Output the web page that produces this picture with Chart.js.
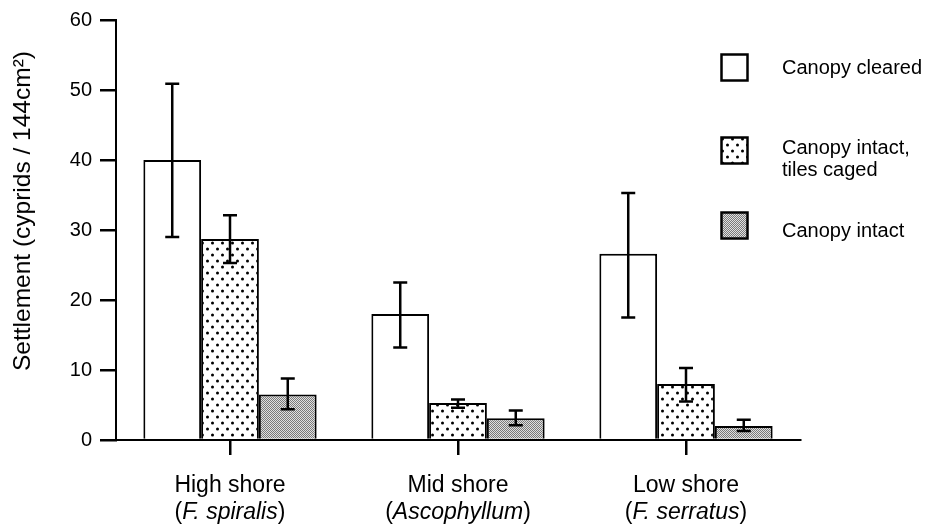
<!DOCTYPE html>
<html>
<head>
<meta charset="utf-8">
<script src="https://cdn.jsdelivr.net/npm/chart.js@4/dist/chart.umd.min.js"></script>
<style>
  html, body { margin: 0; padding: 0; background: #fff; }
  #wrap { position: relative; width: 928px; height: 528px; font-family: 'Liberation Sans', Arial, Helvetica, sans-serif; color: #000; }
  #chart { position: absolute; left: 0; top: 0; }
  .cat { position: absolute; top: 471px; width: 220px; margin-left: -110px; text-align: center; font-size: 23px; line-height: 27px; }
  #ytitle { position: absolute; left: 22px; top: 211px; white-space: nowrap; font-size: 24.5px; line-height: 28px; transform: translate(-50%, -50%) rotate(-90deg); }
  .leg { position: absolute; left: 720px; }
  .leg canvas { position: absolute; left: 0; top: 0; }
  .leg span { position: absolute; left: 62px; font-size: 20px; line-height: 22px; white-space: nowrap; }
</style>
</head>
<body>
<div id="wrap">
  <canvas id="chart" width="928" height="528"></canvas>
  <div id="ytitle">Settlement (cyprids / 144cm²)</div>
  <div id="cats"></div>
  <div class="leg" style="top:53px"><canvas id="sw0" width="29" height="29"></canvas><span style="top:3px">Canopy cleared</span></div>
  <div class="leg" style="top:136px"><canvas id="sw1" width="29" height="29"></canvas><span style="top:0px">Canopy intact,<br>tiles caged</span></div>
  <div class="leg" style="top:211px"><canvas id="sw2" width="29" height="29"></canvas><span style="top:8px">Canopy intact</span></div>
</div>
<script>
// shore levels and the dominant canopy species
const shores = ['High shore', 'Mid shore', 'Low shore'];
const species = ['F. spiralis', 'Ascophyllum', 'F. serratus'];

// settlement means and error bar ends (cyprids / 144cm2)
const cleared = [40, 18, 26.6];
const clearedLo = [29, 13.2, 17.5];
const clearedHi = [50.9, 22.5, 35.3];

const caged = [28.7, 5.3, 8.0];
const cagedLo = [25.3, 4.6, 5.5];
const cagedHi = [32.1, 5.8, 10.3];

const intact = [6.5, 3.1, 2.0];
const intactLo = [4.4, 2.1, 1.3];
const intactHi = [8.8, 4.2, 2.9];

const yTicks = [0, 10, 20, 30, 40, 50, 60];

const FONT = "'Liberation Sans', Arial, Helvetica, sans-serif";

// fill patterns like the printed figure
function dotPattern() {
  const c = document.createElement('canvas');
  c.width = 10; c.height = 12;
  const g = c.getContext('2d');
  g.fillStyle = '#fff';
  g.fillRect(0, 0, 10, 12);
  g.fillStyle = '#000';
  g.beginPath();
  g.arc(2.5, 3, 1.5, 0, Math.PI * 2);
  g.arc(7.5, 9, 1.5, 0, Math.PI * 2);
  g.fill();
  return g.createPattern(c, 'repeat');
}

function greyPattern() {
  const c = document.createElement('canvas');
  c.width = 2; c.height = 2;
  const g = c.getContext('2d');
  g.fillStyle = '#e0e0e0';
  g.fillRect(0, 0, 2, 2);
  g.fillStyle = '#7a7a7a';
  g.fillRect(0, 0, 1, 1);
  g.fillRect(1, 1, 1, 1);
  return g.createPattern(c, 'repeat');
}

const fills = ['#ffffff', dotPattern(), greyPattern()];

// legend swatches
fills.forEach((f, i) => {
  const g = document.getElementById('sw' + i).getContext('2d');
  g.fillStyle = f;
  g.fillRect(1, 1, 27, 27);
  g.strokeStyle = '#000';
  g.lineWidth = 2.5;
  g.strokeRect(1.5, 1.5, 26, 26);
});

const lows = [clearedLo, cagedLo, intactLo];
const highs = [clearedHi, cagedHi, intactHi];

const errorBars = {
  id: 'errorBars',
  afterDatasetsDraw(chart) {
    const ctx = chart.ctx;
    const y = chart.scales.y;
    ctx.save();
    ctx.strokeStyle = '#000';
    ctx.lineWidth = 2.5;
    chart.data.datasets.forEach((ds, i) => {
      chart.getDatasetMeta(i).data.forEach((bar, j) => {
        const yl = y.getPixelForValue(lows[i][j]);
        const yh = y.getPixelForValue(highs[i][j]);
        ctx.beginPath();
        ctx.moveTo(bar.x, yl);
        ctx.lineTo(bar.x, yh);
        ctx.moveTo(bar.x - 7, yl);
        ctx.lineTo(bar.x + 7, yl);
        ctx.moveTo(bar.x - 7, yh);
        ctx.lineTo(bar.x + 7, yh);
        ctx.stroke();
      });
    });
    ctx.restore();
  }
};

// category labels as html text, placed from the x scale
const catLabels = {
  id: 'catLabels',
  afterRender(chart) {
    const box = document.getElementById('cats');
    if (box.childNodes.length) return;
    const x = chart.scales.x;
    shores.forEach((s, i) => {
      const d = document.createElement('div');
      d.className = 'cat';
      d.style.left = x.getPixelForValue(i) + 'px';
      d.innerHTML = s + '<br>(<i>' + species[i] + '</i>)';
      box.appendChild(d);
    });
  }
};

function ds(label, data, fill) {
  return {
    label, data,
    backgroundColor: fill,
    borderColor: '#000',
    borderWidth: 2,
    borderSkipped: 'bottom',
    categoryPercentage: 0.76,
    barPercentage: 1.0
  };
}

new Chart(document.getElementById('chart'), {
  type: 'bar',
  data: {
    labels: shores,
    datasets: [
      ds('Canopy cleared', cleared, fills[0]),
      ds('Canopy intact, tiles caged', caged, fills[1]),
      ds('Canopy intact', intact, fills[2])
    ]
  },
  plugins: [errorBars, catLabels],
  options: {
    responsive: false,
    animation: false,
    layout: { padding: { top: 20, right: 128, bottom: 0, left: 0 } },
    plugins: { legend: { display: false }, tooltip: { enabled: false } },
    scales: {
      x: {
        afterFit: (s) => { s.height = 88; },
        border: { color: '#000', width: 2 },
        grid: { offset: false, drawOnChartArea: false, drawTicks: true, tickLength: 15, color: '#000', lineWidth: 2.5 },
        ticks: { display: false }
      },
      y: {
        min: 0, max: 60,
        afterFit: (s) => { s.width = 116; },
        afterBuildTicks: (s) => { s.ticks = yTicks.map(v => ({ value: v })); },
        border: { color: '#000', width: 2 },
        grid: { drawOnChartArea: false, drawTicks: true, tickLength: 16, color: '#000', lineWidth: 2.5 },
        ticks: { color: '#000', padding: 8, font: { family: FONT, size: 20 } }
      }
    }
  }
});
</script>
</body>
</html>
